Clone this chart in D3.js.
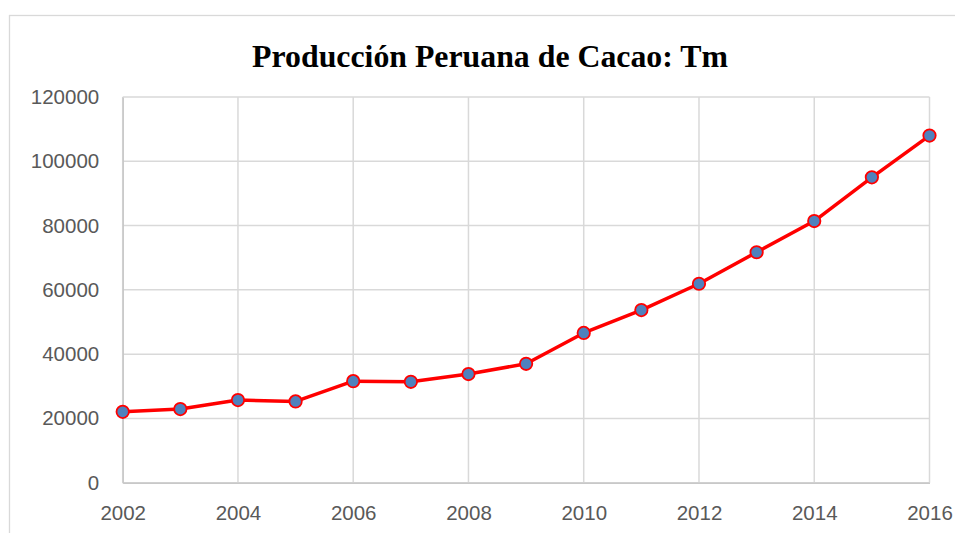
<!DOCTYPE html>
<html>
<head>
<meta charset="utf-8">
<script src="https://cdn.jsdelivr.net/npm/d3@7"></script>
<style>
  html, body { margin: 0; padding: 0; background: #fff; }
  .tick text { font-family: "Liberation Sans", Arial, sans-serif; font-size: 20.5px; fill: #595959; }
</style>
</head>
<body>
<svg id="chart" width="955" height="533"></svg>
<script>
// data
var years = [2002, 2003, 2004, 2005, 2006, 2007, 2008, 2009, 2010, 2011, 2012, 2013, 2014, 2015, 2016];
var production = [22050, 22900, 25700, 25300, 31600, 31400, 33800, 37000, 46600, 53700, 61900, 71700, 81400, 95000, 108000];
var xTicks = [2002, 2004, 2006, 2008, 2010, 2012, 2014, 2016];
var yTicks = [0, 20000, 40000, 60000, 80000, 100000, 120000];
var title = "Producción Peruana de Cacao: Tm";

var svg = d3.select("#chart"),
    margin = {top: 97, right: 25.5, bottom: 50.3, left: 122.7},
    width = +svg.attr("width") - margin.left - margin.right,
    height = +svg.attr("height") - margin.top - margin.bottom;

// outer chart border
svg.append("rect")
    .attr("x", 9.5)
    .attr("y", 15.5)
    .attr("width", 1000)
    .attr("height", 600)
    .attr("fill", "#fff")
    .attr("stroke", "#d9d9d9")
    .attr("stroke-width", 1.3);

svg.append("text")
    .attr("x", 490)
    .attr("y", 66.5)
    .attr("text-anchor", "middle")
    .style("font-family", "'Liberation Serif', 'Times New Roman', serif")
    .style("font-weight", "bold")
    .style("font-size", "31.8px")
    .text(title);

var g = svg.append("g").attr("transform", "translate(" + margin.left + "," + margin.top + ")");

var x = d3.scaleLinear()
    .domain([2002, 2016])
    .range([0, width]);

var y = d3.scaleLinear()
    .domain([0, 120000])
    .range([height, 0]);

// gridlines
g.append("g")
    .attr("class", "grid")
  .selectAll("line.h")
  .data(yTicks)
  .join("line")
    .attr("x1", 0)
    .attr("x2", width)
    .attr("y1", d => y(d))
    .attr("y2", d => y(d))
    .attr("stroke", "#d9d9d9")
    .attr("stroke-width", 1.5);

g.append("g")
    .attr("class", "grid")
  .selectAll("line.v")
  .data(xTicks)
  .join("line")
    .attr("x1", d => x(d))
    .attr("x2", d => x(d))
    .attr("y1", 0)
    .attr("y2", height)
    .attr("stroke", "#d9d9d9")
    .attr("stroke-width", 1.5);

// axes
var xAxis = g.append("g")
    .attr("transform", "translate(0," + height + ")")
    .call(d3.axisBottom(x).tickValues(xTicks).tickFormat(d3.format("d")).tickSize(0).tickPadding(23));
xAxis.select(".domain").attr("stroke", "#c8c8c8").attr("stroke-width", 1.5);

var yAxis = g.append("g")
    .call(d3.axisLeft(y).tickValues(yTicks).tickFormat(d3.format("d")).tickSize(0).tickPadding(23.5));
yAxis.select(".domain").attr("stroke", "#c8c8c8").attr("stroke-width", 1.5);

// line
var line = d3.line()
    .x(function(d, i) { return x(years[i]); })
    .y(function(d) { return y(d); });

g.append("path")
    .datum(production)
    .attr("fill", "none")
    .attr("stroke", "#ff0000")
    .attr("stroke-width", 3.5)
    .attr("stroke-linejoin", "round")
    .attr("d", line);

g.selectAll("circle")
  .data(production)
  .join("circle")
    .attr("cx", (d, i) => x(years[i]))
    .attr("cy", d => y(d))
    .attr("r", 6.2)
    .attr("fill", "#4f81bd")
    .attr("stroke", "#ff0000")
    .attr("stroke-width", 1.8);
</script>
</body>
</html>
